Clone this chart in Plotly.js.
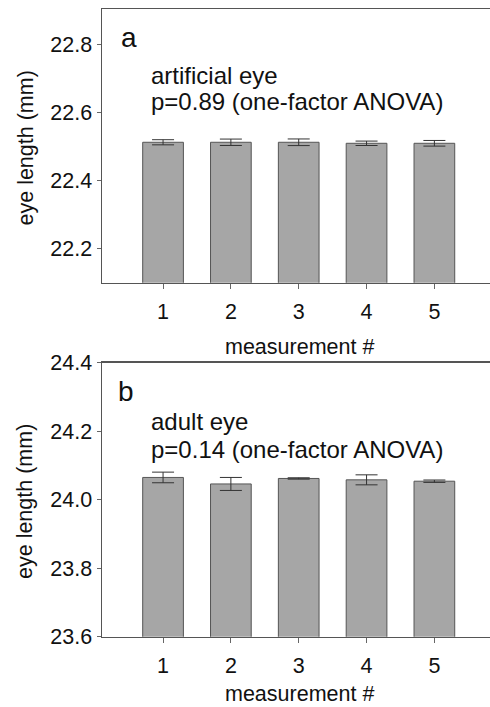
<!DOCTYPE html>
<html>
<head>
<meta charset="utf-8">
<script src="https://cdn.plot.ly/plotly-3.0.1.min.js"></script>
<style>html,body{margin:0;padding:0;background:#fff;}#chart{width:490px;height:707px;}</style>
</head>
<body>
<div id="chart"></div>
<script>
const measurements = [1, 2, 3, 4, 5];
const artificialMeans = [22.512, 22.512, 22.512, 22.509, 22.509];
const artificialErr = [0.0075, 0.0094, 0.0097, 0.0065, 0.0083];
const adultMeans = [24.065, 24.046, 24.062, 24.058, 24.054];
const adultErr = [0.0155, 0.019, 0.002, 0.0146, 0.0035];
const xTickVals = [1, 2, 3, 4, 5];
const xTickText = ["1", "2", "3", "4", "5"];
const topYTicks = [22.2, 22.4, 22.6, 22.8];
const bottomYTicks = [23.6, 23.8, 24.0, 24.2, 24.4];
const bottomYTickText = ["23.6", "23.8", "24.0", "24.2", "24.4"];
const xTitle = 'measurement #';
const yTitle = 'eye length (mm)';

const FONT = "Liberation Sans, Arial, sans-serif";
const W = 490, H = 707, L = 102;
const px = v => (v - L) / (W - L);
const py = v => (H - v) / H;

const barStyle = {
  type: 'bar', width: 0.6,
  marker: {color: '#a6a6a6', line: {color: '#555555', width: 1}},
  hoverinfo: 'skip', showlegend: false
};
const errStyle = (arr) => ({type: 'data', array: arr, visible: true, color: '#333333', thickness: 1, width: 11});

const traces = [
  Object.assign({}, barStyle, {x: measurements, y: artificialMeans, error_y: errStyle(artificialErr), xaxis: 'x', yaxis: 'y'}),
  Object.assign({}, barStyle, {x: measurements, y: adultMeans, error_y: errStyle(adultErr), xaxis: 'x2', yaxis: 'y2'})
];

const xAxisBase = {
  range: [0.1, 5.82], showline: true, mirror: true, linecolor: '#555555', linewidth: 1.5,
  showgrid: false, zeroline: false, ticks: 'outside', ticklen: 5, tickwidth: 1, tickcolor: '#666666',
  tickvals: xTickVals, ticktext: xTickText, ticklabelstandoff: 4,
  tickfont: {family: FONT, size: 21.5, color: '#111111'},
  fixedrange: true
};
const yAxisBase = {
  showline: true, linecolor: '#555555', linewidth: 1.5, showgrid: false, zeroline: false,
  ticks: 'outside', ticklen: 4, tickwidth: 1, tickcolor: '#666666',
  ticksuffix: '\u00a0\u00a0',
  tickfont: {family: FONT, size: 21.5, color: '#111111'},
  fixedrange: true
};

const titleFont = {family: FONT, size: 21.5, color: '#111111'};
const textFont = {family: FONT, size: 24, color: '#111111'};
const letterFont = {family: FONT, size: 28, color: '#111111'};
const ann = (text, x, y, font, extra) => Object.assign({text: text, x: px(x), y: py(y), xref: 'paper', yref: 'paper', xanchor: 'left', yanchor: 'middle', showarrow: false, font: font}, extra || {});

const layout = {
  width: W, height: H,
  margin: {l: L, r: 0, t: 0, b: 0},
  paper_bgcolor: '#ffffff', plot_bgcolor: '#ffffff',
  font: {family: FONT, color: '#111111'},
  xaxis: Object.assign({}, xAxisBase, {anchor: 'y'}),
  yaxis: Object.assign({}, yAxisBase, {domain: [py(282.7), py(9)], range: [22.1, 22.903], tickvals: topYTicks, anchor: 'x'}),
  xaxis2: Object.assign({}, xAxisBase, {anchor: 'y2'}),
  yaxis2: Object.assign({}, yAxisBase, {domain: [py(636.7), py(362.7)], range: [23.6, 24.4], tickvals: bottomYTicks, ticktext: bottomYTickText, anchor: 'x2'}),
  annotations: [
    ann('a', 119, 38, letterFont),
    ann('artificial eye', 149, 75, textFont),
    ann('p=0.89 (one-factor ANOVA)', 149, 102, textFont),
    ann('b', 116, 391, letterFont),
    ann('adult eye', 149, 421, textFont),
    ann('p=0.14 (one-factor ANOVA)', 149, 449, textFont),
    ann(xTitle, 299, 346.5, titleFont, {xanchor: 'center'}),
    ann(xTitle, 299, 694, titleFont, {xanchor: 'center'}),
    ann(yTitle, 25, 148.5, titleFont, {xanchor: 'center', textangle: -90}),
    ann(yTitle, 25, 502, titleFont, {xanchor: 'center', textangle: -90})
  ]
};

Plotly.newPlot('chart', traces, layout, {staticPlot: true, displayModeBar: false});
</script>
</body>
</html>
